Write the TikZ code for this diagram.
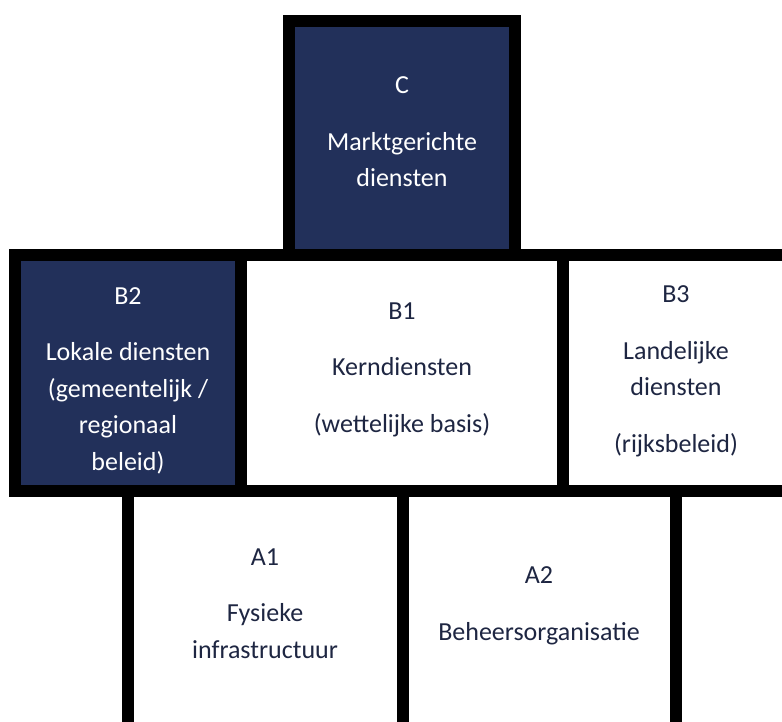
\documentclass[tikz,border=0pt]{standalone}
\usepackage{fontspec}
\setmainfont{Carlito}
\definecolor{navy}{RGB}{34,48,90}
\definecolor{inkblue}{RGB}{30,38,66}
\begin{document}
\begin{tikzpicture}[x=1pt,y=-1pt,
  cell/.style={draw=black,line width=12pt,inner sep=0pt,outer sep=0pt},
  dark/.style={cell,fill=navy},
  light/.style={cell,fill=white},
  lbl/.style={align=center,anchor=base,inner sep=0pt,font=\fontsize{26}{36.5}\selectfont},
  lbldark/.style={lbl,text=white},
  lbllight/.style={lbl,text=inkblue}]
\useasboundingbox[fill=white] (0,0) rectangle (782,722);
% boxes
\node[dark, minimum width=226pt, minimum height=234.5pt] (C) at (402,138.25) {};
\node[dark, minimum width=226pt, minimum height=235.5pt] (B2) at (128,373.25) {};
\node[light, minimum width=322pt, minimum height=235.5pt] (B1) at (402,373.25) {};
\node[light, minimum width=226pt, minimum height=235.5pt] (B3) at (676,373.25) {};
\node[light, minimum width=274.5pt, minimum height=249pt] (A1) at (265.25,615.5) {};
\node[light, minimum width=273.5pt, minimum height=249pt] (A2) at (539.25,615.5) {};
% labels (anchored at the baseline of the last line)
\node[lbldark] (Ct) at (402,187) {C\\[20pt]Marktgerichte\\diensten};
\node[lbldark] (B2t) at (128,470) {B2\\[20pt]Lokale diensten\\(gemeentelijk /\\regionaal\\beleid)};
\node[lbllight] (B1t) at (402,432) {B1\\[20pt]Kerndiensten\\[20pt](wettelijke basis)};
\node[lbllight] (B3t) at (676,452) {B3\\[20pt]Landelijke\\diensten\\[20pt](rijksbeleid)};
\node[lbllight] (A1t) at (265,658) {A1\\[20pt]Fysieke\\infrastructuur};
\node[lbllight] (A2t) at (539,640) {A2\\[20pt]Beheersorganisatie};
\end{tikzpicture}
\end{document}
